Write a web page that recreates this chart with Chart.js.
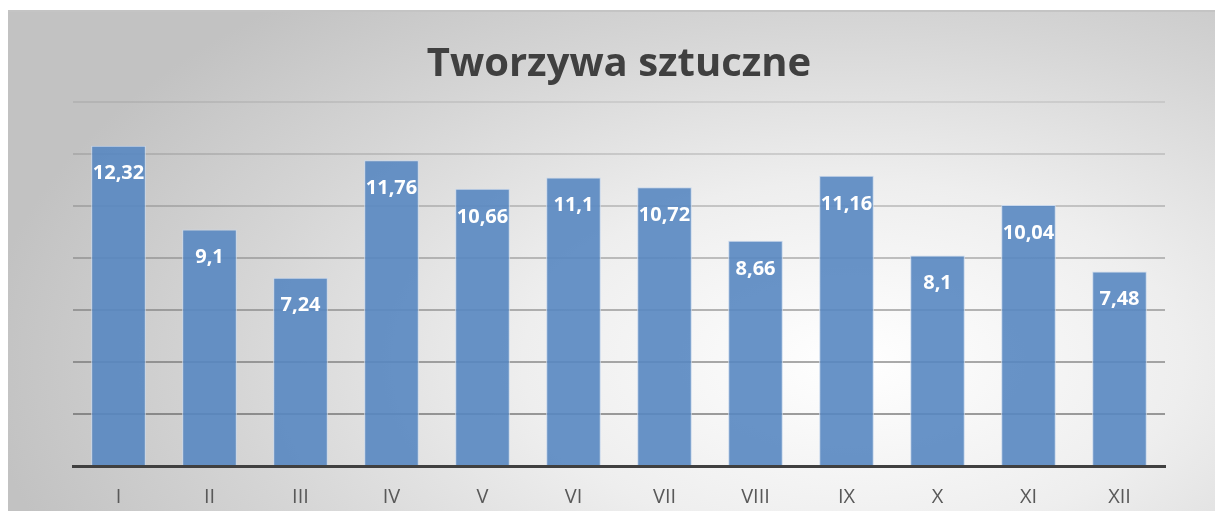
<!DOCTYPE html>
<html>
<head>
<meta charset="utf-8">
<script src="https://cdn.jsdelivr.net/npm/chart.js@4"></script>
<style>
  html, body { margin: 0; padding: 0; background: #fff; }
  #wrap {
    position: absolute; left: 8px; top: 10px; width: 1207px; height: 501px;
    border-top: 2px solid #c4c4c4; box-sizing: border-box;
    background: radial-gradient(ellipse 72% 95% at 70% 70%, #ffffff 0%, #eeeeee 38%, #d5d5d5 72%, #c2c2c2 100%);
  }
  canvas { display: block; }
</style>
</head>
<body>
<div id="wrap"><canvas id="chart" width="1207" height="499"></canvas></div>
<script>
const months = ["I", "II", "III", "IV", "V", "VI", "VII", "VIII", "IX", "X", "XI", "XII"];
const values = [12.32, 9.1, 7.24, 11.76, 10.66, 11.1, 10.72, 8.66, 11.16, 8.1, 10.04, 7.48];
const title = "Tworzywa sztuczne";

// white value labels drawn just under the top of each bar
const barLabels = {
  id: "barLabels",
  afterDatasetsDraw(chart) {
    const c = chart.ctx;
    const meta = chart.getDatasetMeta(0);
    c.save();
    c.fillStyle = "#ffffff";
    c.font = "bold 20px 'Open Sans', sans-serif";
    c.textAlign = "center";
    c.textBaseline = "middle";
    meta.data.forEach((bar, i) => {
      const txt = String(values[i]).replace(".", ",");
      c.fillText(txt, bar.x, bar.y + 28);
    });
    c.restore();
  }
};

new Chart(document.getElementById("chart"), {
  type: "bar",
  data: {
    labels: months,
    datasets: [{
      data: values,
      backgroundColor: "rgba(88,135,193,0.9)",
      borderColor: "#c9d8ec",
      borderWidth: 1,
      barPercentage: 0.6,
      categoryPercentage: 1.0
    }]
  },
  options: {
    responsive: false,
    animation: false,
    layout: { padding: { left: 65, right: 50, top: 0, bottom: 0 } },
    plugins: {
      legend: { display: false },
      tooltip: { enabled: false },
      title: {
        display: true,
        text: title,
        color: "#404040",
        font: { family: "'Open Sans', sans-serif", size: 40, weight: "bold" },
        padding: { top: 29, bottom: 13 }
      }
    },
    scales: {
      x: {
        grid: { display: false, tickLength: 0 },
        border: { display: true, color: "#404040", width: 3 },
        ticks: {
          color: "#595959",
          font: { family: "'Open Sans', sans-serif", size: 20 },
          padding: 19
        },
        afterFit: (scale) => { scale.height = 45; }
      },
      y: {
        min: 0,
        max: 14,
        ticks: { stepSize: 2, display: false },
        border: { display: false },
        grid: {
          drawTicks: false,
          lineWidth: 2,
          color: (ctx) => {
            const v = ctx.tick.value;
            if (v === 0) return "rgba(0,0,0,0)";
            const a = 0.55 - (v - 2) * 0.036;
            return `rgba(80,80,80,${a.toFixed(3)})`;
          }
        }
      }
    }
  },
  plugins: [barLabels]
});
</script>
</body>
</html>
